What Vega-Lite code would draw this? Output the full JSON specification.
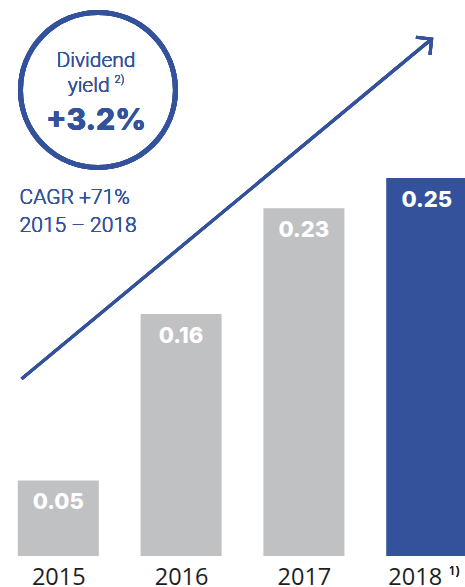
{
  "$schema": "https://vega.github.io/schema/vega-lite/v6.json",
  "width": 465,
  "height": 556,
  "autosize": "none",
  "padding": {"left": 0, "top": 0, "right": 0, "bottom": 31},
  "background": "white",
  "config": {"view": {"stroke": null}},
  "data": {"values": [
    {"year": 2015, "value": 0.05, "label": "0.05", "group": "past"},
    {"year": 2016, "value": 0.16, "label": "0.16", "group": "past"},
    {"year": 2017, "value": 0.23, "label": "0.23", "group": "past"},
    {"year": 2018, "value": 0.25, "label": "0.25", "group": "current"}
  ]},
  "layer": [
    {
      "mark": {"type": "bar", "width": 81},
      "encoding": {
        "x": {"field": "year", "type": "quantitative",
          "scale": {"domain": [2014.566, 2018.271], "nice": false, "zero": false},
          "axis": {"values": [2015, 2016, 2017, 2018], "format": "d", "domain": false, "ticks": false, "grid": false,
            "labelOffset": {"condition": {"test": "datum.value == 2018", "value": -12}, "value": 0},
            "labelFont": "Open Sans", "labelFontSize": 23.5, "labelColor": "#1e1e1e", "labelBaseline": "alphabetic",
            "labelPadding": 28, "title": null, "labelFlush": false, "labelOverlap": false}},
        "y": {"field": "value", "type": "quantitative",
          "scale": {"domain": [0, 0.3677], "nice": false, "zero": false}, "axis": null},
        "color": {"field": "group", "type": "nominal",
          "scale": {"domain": ["past", "current"], "range": ["#c0c1c3", "#33529b"]}, "legend": null}
      }
    },
    {
      "mark": {"type": "text", "font": "Inter", "fontWeight": 800, "fontSize": 22, "color": "white", "baseline": "alphabetic", "dy": 29},
      "encoding": {
        "x": {"field": "year", "type": "quantitative"},
        "y": {"field": "value", "type": "quantitative"},
        "text": {"field": "label"}
      }
    },
    {
      "mark": {"type": "rule", "color": "#33529b", "strokeWidth": 3},
      "encoding": {
        "x": {"datum": 2014.701, "type": "quantitative"},
        "y": {"datum": 0.1171, "type": "quantitative"},
        "x2": {"datum": 2018.04},
        "y2": {"datum": 0.3419}
      }
    },
    {
      "mark": {"type": "point", "shape": "M-1,-1L0,0L-1,1", "filled": false, "stroke": "#33529b", "strokeWidth": 3, "size": 500, "angle": 321, "opacity": 1},
      "encoding": {
        "x": {"datum": 2018.04, "type": "quantitative"},
        "y": {"datum": 0.3419, "type": "quantitative"}
      }
    },
    {
      "mark": {"type": "point", "shape": "circle", "filled": false, "stroke": "#33529b", "strokeWidth": 5, "size": 24025, "opacity": 1},
      "encoding": {
        "x": {"datum": 2015.323, "type": "quantitative"},
        "y": {"datum": 0.3082, "type": "quantitative"}
      }
    },
    {
      "mark": {"type": "text", "font": "Roboto", "fontWeight": 300, "fontSize": 21, "color": "#33529b", "baseline": "alphabetic", "align": "center"},
      "encoding": {
        "x": {"datum": 2015.307, "type": "quantitative"},
        "y": {"datum": 0.3234, "type": "quantitative"},
        "text": {"value": "Dividend"}
      }
    },
    {
      "mark": {"type": "text", "font": "Roboto", "fontWeight": 300, "fontSize": 21, "color": "#33529b", "baseline": "alphabetic", "align": "center"},
      "encoding": {
        "x": {"datum": 2015.247, "type": "quantitative"},
        "y": {"datum": 0.3069, "type": "quantitative"},
        "text": {"value": "yield"}
      }
    },
    {
      "mark": {"type": "text", "font": "Roboto", "fontWeight": 300, "fontSize": 11, "color": "#33529b", "baseline": "alphabetic", "align": "center"},
      "encoding": {
        "x": {"datum": 2015.498, "type": "quantitative"},
        "y": {"datum": 0.3128, "type": "quantitative"},
        "text": {"value": "2)"}
      }
    },
    {
      "mark": {"type": "text", "font": "Inter", "fontWeight": 800, "fontSize": 30, "color": "#33529b", "baseline": "alphabetic", "align": "center"},
      "encoding": {
        "x": {"datum": 2015.307, "type": "quantitative"},
        "y": {"datum": 0.2817, "type": "quantitative"},
        "text": {"value": "+3.2%"}
      }
    },
    {
      "mark": {"type": "text", "font": "Roboto", "fontWeight": 300, "fontSize": 21, "color": "#33529b", "baseline": "alphabetic", "align": "left"},
      "encoding": {
        "x": {"datum": 2014.685, "type": "quantitative"},
        "y": {"datum": 0.2328, "type": "quantitative"},
        "text": {"value": "CAGR +71%"}
      }
    },
    {
      "mark": {"type": "text", "font": "Roboto", "fontWeight": 300, "fontSize": 21, "color": "#33529b", "baseline": "alphabetic", "align": "left"},
      "encoding": {
        "x": {"datum": 2014.685, "type": "quantitative"},
        "y": {"datum": 0.2143, "type": "quantitative"},
        "text": {"value": "2015 – 2018"}
      }
    },
    {
      "mark": {"type": "text", "font": "Open Sans", "fontSize": 12, "color": "#1e1e1e", "baseline": "alphabetic", "align": "center"},
      "encoding": {
        "x": {"datum": 2018.222, "type": "quantitative"},
        "y": {"datum": -0.0126, "type": "quantitative"},
        "text": {"value": "1)"}
      }
    }
  ]
}
